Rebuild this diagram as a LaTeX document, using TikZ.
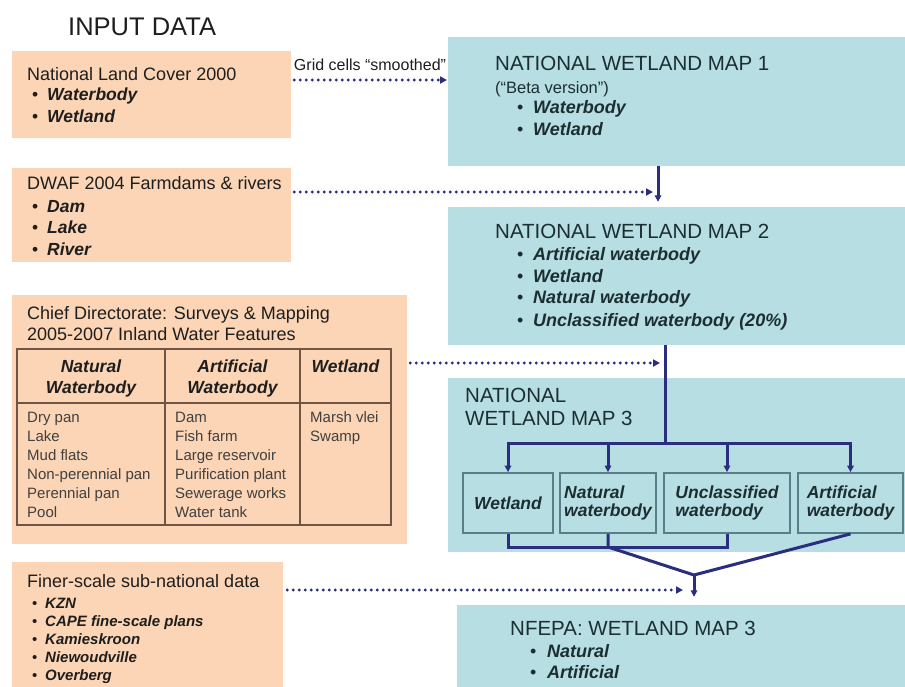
\documentclass[tikz,border=0pt]{standalone}
\usepackage{fontspec}
\setmainfont{Liberation Sans}
\usetikzlibrary{arrows.meta,calc}
\definecolor{peach}{HTML}{FBD5B5}
\definecolor{lblue}{HTML}{B7DEE3}
\definecolor{navy}{HTML}{2B2D7E}
\definecolor{subb}{HTML}{587F88}
\definecolor{tabl}{HTML}{6E5444}
\definecolor{txt}{HTML}{1E1E1E}
\definecolor{mtxt}{HTML}{1B2E32}
\newcommand\fs[1]{\fontsize{#1}{#1}\selectfont}
\begin{document}
\begin{tikzpicture}[x=1pt,y=-1pt,
  pbox/.style={draw=none,fill=peach,inner sep=0,rectangle},
  bbox/.style={draw=none,fill=lblue,inner sep=0,rectangle},
  subbox/.style={draw=subb,line width=1.8pt,fill=lblue,inner sep=0,rectangle,
     minimum height=60pt,align=left,text=mtxt,font=\fs{17.5}\bfseries\itshape},
  ptitle/.style={anchor=base west,inner sep=0,text=txt,font=\fs{18}},
  pitem/.style={anchor=base west,inner sep=0,text=txt,font=\fs{17.5}\bfseries\itshape},
  sitem/.style={anchor=base west,inner sep=0,text=txt,font=\fs{15}\bfseries\itshape},
  mtitle/.style={anchor=base west,inner sep=0,text=mtxt,font=\fs{20.5}},
  mitem/.style={anchor=base west,inner sep=0,text=mtxt,font=\fs{18}\bfseries\itshape},
  thead/.style={anchor=base,inner sep=0,text=txt,font=\fs{17.5}\bfseries\itshape},
  tcell/.style={anchor=base west,inner sep=0,text=txt!85,font=\fs{15}},
  tabline/.style={draw=tabl,line width=1.6pt},
  tip/.style={-{Triangle[length=6.5pt,width=6.5pt]}},
  conn/.style={draw=navy,line width=3pt},
  dotarr/.style={draw=navy,line width=3.2pt,line cap=round,dash pattern=on 0pt off 6pt,
     -{Triangle[length=7pt,width=7pt]}}
]
\clip (0,0) rectangle (905,686);
\fill[white] (0,0) rectangle (905,686);

% ---------- title ----------
\node[anchor=base west,inner sep=0,text=txt,font=\fs{25.5}] (inputtitle) at (68,35) {INPUT DATA};

% ---------- input boxes ----------
\node[pbox,minimum width=279pt,minimum height=87pt] (in1) at (151.5,94.5) {};
\node[pbox,minimum width=279pt,minimum height=94pt] (in2) at (151.5,215) {};
\node[pbox,minimum width=395pt,minimum height=249pt] (in3) at (209.5,419.5) {};
\node[pbox,minimum width=271pt,minimum height=128pt] (in4) at (147.5,626) {};

% ---------- map boxes ----------
\node[bbox,minimum width=457pt,minimum height=129pt] (map1) at (676.5,101.5) {};
\node[bbox,minimum width=457pt,minimum height=138pt] (map2) at (676.5,276) {};
\node[bbox,minimum width=457pt,minimum height=174pt] (map3) at (676.5,465) {};
\node[bbox,minimum width=448pt,minimum height=85pt] (nfepa) at (681,647.5) {};

% ---------- box 1 text ----------
\node[ptitle] (t1) at (27,80) {National Land Cover 2000};
\node[pitem] (t1a) at (32,100) {\makebox[15pt][l]{\mdseries\upshape•}Waterbody};
\node[pitem] (t1b) at (32,122) {\makebox[15pt][l]{\mdseries\upshape•}Wetland};

% ---------- box 2 text ----------
\node[ptitle] (t2) at (27,189) {DWAF 2004 Farmdams \& rivers};
\node[pitem] (t2a) at (32,212) {\makebox[15pt][l]{\mdseries\upshape•}Dam};
\node[pitem] (t2b) at (32,233) {\makebox[15pt][l]{\mdseries\upshape•}Lake};
\node[pitem] (t2c) at (32,255) {\makebox[15pt][l]{\mdseries\upshape•}River};

% ---------- box 3 text + table ----------
\node[ptitle] (t3a) at (27,319) {Chief Directorate: Surveys \& Mapping};
\node[ptitle] (t3b) at (27,340) {2005-2007 Inland Water Features};
\node[draw=tabl,line width=1.6pt,inner sep=0,minimum width=374pt,minimum height=176pt] (tbl) at (204,437) {};
\draw[tabline] (17,403) -- (391,403);
\draw[tabline] (165,349) -- (165,525);
\draw[tabline] (300,349) -- (300,525);
\node[thead] (h1a) at (91,372) {Natural};
\node[thead] (h1b) at (91,393) {Waterbody};
\node[thead] (h2a) at (232.5,372) {Artificial};
\node[thead] (h2b) at (232.5,393) {Waterbody};
\node[thead] (h3a) at (345.5,372) {Wetland};
\foreach \t [count=\i] in {Dry pan,Lake,Mud flats,Non-perennial pan,Perennial pan,Pool}
  \node[tcell] (nat\i) at (27,{422+19*(\i-1)}) {\t};
\foreach \t [count=\i] in {Dam,Fish farm,Large reservoir,Purification plant,Sewerage works,Water tank}
  \node[tcell] (art\i) at (175,{422+19*(\i-1)}) {\t};
\foreach \t [count=\i] in {Marsh vlei,Swamp}
  \node[tcell] (wet\i) at (310,{422+19*(\i-1)}) {\t};

% ---------- box 4 text ----------
\node[ptitle] (t4) at (27,587) {Finer-scale sub-national data};
\foreach \t [count=\i] in {KZN,CAPE fine-scale plans,Kamieskroon,Niewoudville,Overberg}
  \node[sitem] (t4\i) at (32,{608+18*(\i-1)}) {\makebox[13pt][l]{\mdseries\upshape•}\t};

% ---------- map 1 text ----------
\node[mtitle] (m1) at (495,70) {NATIONAL WETLAND MAP 1};
\node[anchor=base west,inner sep=0,text=mtxt,font=\fs{16.5}] (m1b) at (495,93) {(“Beta version”)};
\node[mitem] (m1x) at (517,113) {\makebox[16pt][l]{\mdseries\upshape•}Waterbody};
\node[mitem] (m1y) at (517,135) {\makebox[16pt][l]{\mdseries\upshape•}Wetland};

% ---------- map 2 text ----------
\node[mtitle] (m2) at (495,238) {NATIONAL WETLAND MAP 2};
\node[mitem] (m2a) at (517,260) {\makebox[16pt][l]{\mdseries\upshape•}Artificial waterbody};
\node[mitem] (m2b) at (517,282) {\makebox[16pt][l]{\mdseries\upshape•}Wetland};
\node[mitem] (m2c) at (517,303) {\makebox[16pt][l]{\mdseries\upshape•}Natural waterbody};
\node[mitem] (m2d) at (517,326) {\makebox[16pt][l]{\mdseries\upshape•}Unclassified waterbody (20\%)};

% ---------- map 3 text and sub boxes ----------
\node[mtitle] (m3a) at (465,402) {NATIONAL};
\node[mtitle] (m3b) at (465,425) {WETLAND MAP 3};
\node[subbox,minimum width=90pt] (W) at (508,503) {Wetland};
\node[subbox,minimum width=96pt] (N) at (608,503) {Natural\\waterbody};
\node[subbox,minimum width=126pt] (U) at (727,503) {Unclassified\\waterbody};
\node[subbox,minimum width=105pt] (A) at (850.5,503) {Artificial\\waterbody};

% ---------- NFEPA text ----------
\node[mtitle] (nf) at (510,635) {NFEPA: WETLAND MAP 3};
\node[mitem] (nfa) at (530,657) {\makebox[17pt][l]{\mdseries\upshape•}Natural};
\node[mitem] (nfb) at (530,678) {\makebox[17pt][l]{\mdseries\upshape•}Artificial};

% ---------- dotted arrows ----------
\node[anchor=base,inner sep=0,text=txt,font=\fs{16}] (gridlbl) at (370,70) {Grid cells “smoothed”};
\coordinate (d1) at (447,80);
\coordinate (d2) at (653,192);
\coordinate (d3) at (660,363);
\coordinate (d4) at (683,590);
\draw[dotarr,shorten <=3pt] (in1.east |- d1) -- (d1);
\draw[dotarr,shorten <=3pt] (in2.east |- d2) -- (d2);
\draw[dotarr,shorten <=3pt] (in3.east |- d3) -- (d3);
\draw[dotarr,shorten <=4pt] (in4.east |- d4) -- (d4);

% ---------- solid connectors ----------
\coordinate (v12) at (658,0);
\draw[conn,tip,shorten >=5pt] (v12 |- map1.south) -- (v12 |- map2.north);
\coordinate (split) at (665,443);
\draw[conn] (split |- map2.south) -- (split);
\foreach \s in {W,N,U,A}
  \draw[conn,tip] (split) -| (\s.north);
\coordinate (bl) at (608,547);
\coordinate (merge) at (694,575);
\draw[conn] (W.south) |- (bl) -| (U.south);
\draw[conn] (N.south) -- (bl) -- (merge) -- (A.south);
\draw[conn,tip,shorten >=8pt] (merge) -- (merge |- nfepa.north);
\end{tikzpicture}
\end{document}
